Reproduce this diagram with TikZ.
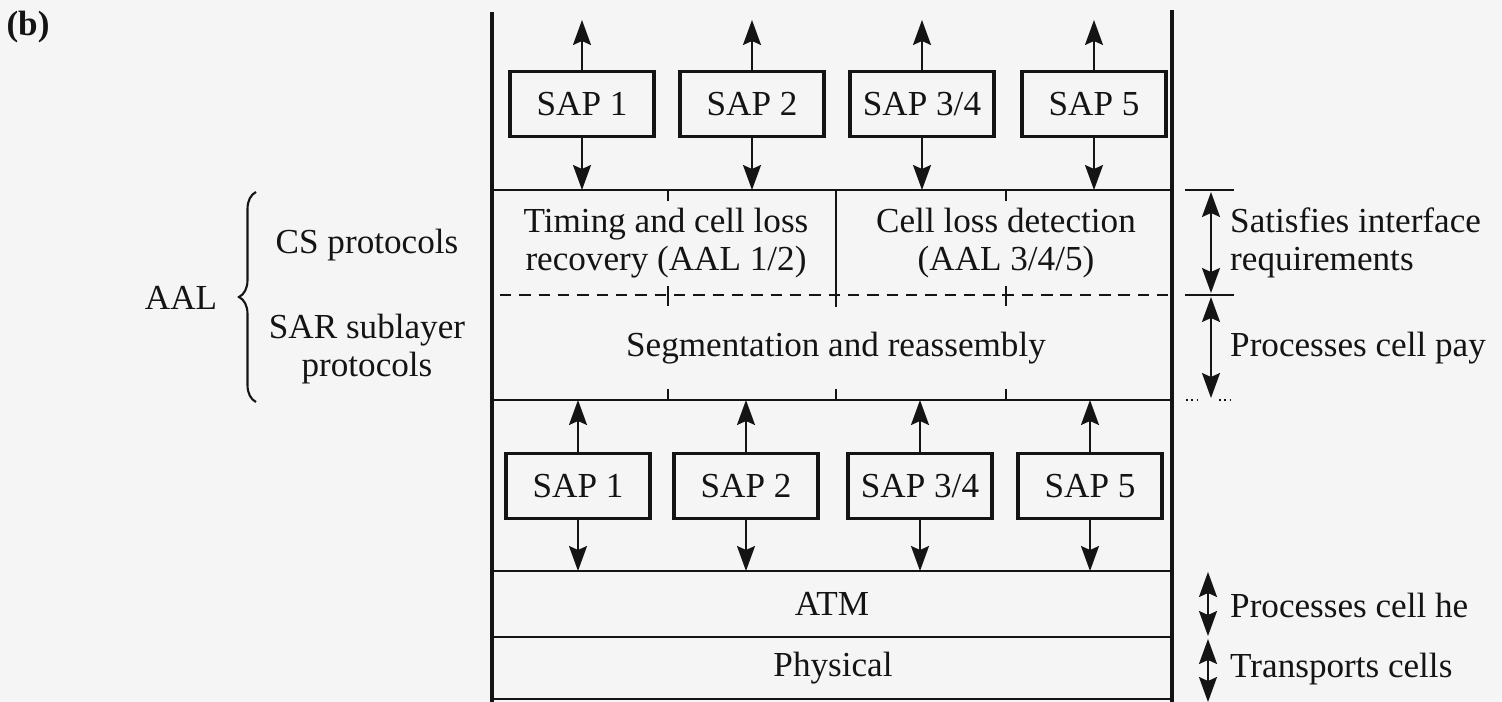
\documentclass[tikz,border=0pt]{standalone}
\usepackage{fontspec}
\setmainfont{Liberation Serif}
\usepackage{xcolor}
\definecolor{scanInk}{gray}{0.08}
\definecolor{scanPaper}{gray}{0.96}
\usepackage{tikz}
\usetikzlibrary{arrows.meta,decorations.pathreplacing}

\begin{document}
\begin{tikzpicture}[x=0.02cm, y=-0.02cm,
    >={Stealth[length=0.5cm, width=0.36cm, inset=0.08cm]},
    every node/.style={font=\fontsize{20}{22}\selectfont, text=scanInk},
    frame/.style={scanInk, line width=2pt},
    layerline/.style={scanInk, line width=1.5pt},
    sapbox/.style={draw=scanInk, line width=2pt, minimum width=2.88cm, minimum height=1.3cm, inner sep=0pt},
    sapline/.style={->, scanInk, line width=1.1pt},
    dimline/.style={<->, scanInk, line width=1.1pt}]
  \fill[scanPaper] (0,0) rectangle (1502,702);
  \useasboundingbox (0,0) rectangle (1502,702);

  % ---- protocol stack: frame and layer lines ----
  \draw[frame] (492,12) -- (492,702);
  \draw[frame] (1172,10) -- (1172,702);
  \foreach \y in {190,400,571,637,699}
    \draw[layerline] (492,\y) -- (1172,\y);
  \draw[layerline, dash pattern=on 6.5pt off 4.5pt] (500,295) -- (1168,295);
  \draw[layerline] (836,190) -- (836,307);
  \foreach \x in {668,1006} {
    \draw[layerline] (\x,190) -- (\x,201);
    \draw[layerline] (\x,286) -- (\x,306);
  }
  \foreach \x in {668,836,1006}
    \draw[layerline] (\x,389) -- (\x,400);

  % ---- layer names ----
  \node[align=center] (cs12) at (666,243) {Timing and cell loss\\recovery (AAL 1/2)};
  \node[align=center] (cs345) at (1006,243) {Cell loss detection\\(AAL 3/4/5)};
  \node (sar) at (836,348) {Segmentation and reassembly};
  \node (atm) at (832,604) {ATM};
  \node (phys) at (833,668) {Physical};

  % ---- SAPs above the AAL ----
  \node[sapbox] (sapT1) at (582,104) {SAP 1};
  \node[sapbox] (sapT2) at (752,104) {SAP 2};
  \node[sapbox] (sapT3) at (922,104) {SAP 3/4};
  \node[sapbox] (sapT4) at (1094,104) {SAP 5};
  \foreach \n/\x in {1/582,2/752,3/922,4/1094} {
    \coordinate (upT\n) at (\x,20);
    \coordinate (dnT\n) at (\x,190);
    \draw[sapline] (sapT\n.north) -- (upT\n);
    \draw[sapline] (sapT\n.south) -- (dnT\n);
  }

  % ---- SAPs between AAL and ATM ----
  \node[sapbox] (sapB1) at (578,486) {SAP 1};
  \node[sapbox] (sapB2) at (746,486) {SAP 2};
  \node[sapbox] (sapB3) at (920,486) {SAP 3/4};
  \node[sapbox] (sapB4) at (1090,486) {SAP 5};
  \foreach \n/\x in {1/578,2/746,3/920,4/1090} {
    \coordinate (upB\n) at (\x,400);
    \coordinate (dnB\n) at (\x,571);
    \draw[sapline] (sapB\n.north) -- (upB\n);
    \draw[sapline] (sapB\n.south) -- (dnB\n);
  }

  % ---- right: what each layer does ----
  \draw[layerline] (1185,190) -- (1234,190);
  \draw[layerline] (1185,295) -- (1234,295);
  \draw[scanInk, line width=1pt, dotted] (1186,400) -- (1197,400);
  \draw[scanInk, line width=1pt, dotted] (1219,400) -- (1230,400);
  \coordinate (dimA) at (1211,192);
  \coordinate (dimB) at (1211,293);
  \coordinate (dimC) at (1211,297);
  \coordinate (dimD) at (1211,398);
  \coordinate (dimE) at (1208,572);
  \coordinate (dimF) at (1208,636);
  \coordinate (dimG) at (1208,639);
  \coordinate (dimH) at (1208,702);
  \draw[dimline] (dimA) -- (dimB);
  \draw[dimline] (dimC) -- (dimD);
  \draw[dimline] (dimE) -- (dimF);
  \draw[dimline] (dimG) -- (dimH);
  \node[anchor=west, align=left] (satisfy) at (1224,243) {Satisfies interface\\requirements};
  \node[anchor=west] (payload) at (1224,348) {Processes cell pay};
  \node[anchor=west] (header) at (1224,605) {Processes cell he};
  \node[anchor=west] (transport) at (1224,669) {Transports cells};

  % ---- left: AAL sublayers ----
  \node[font=\fontsize{20}{22}\selectfont\bfseries] (fig) at (28,27) {(b)};
  \node (aal) at (181,298) {AAL};
  \draw[decorate, decoration={brace, amplitude=0.34cm}, scanInk, line width=1.2pt]
    (256,402) -- (256,192);
  \node (cs) at (367,245) {CS protocols};
  \node[align=center] (sarp) at (367,349) {SAR sublayer\\protocols};
\end{tikzpicture}
\end{document}
